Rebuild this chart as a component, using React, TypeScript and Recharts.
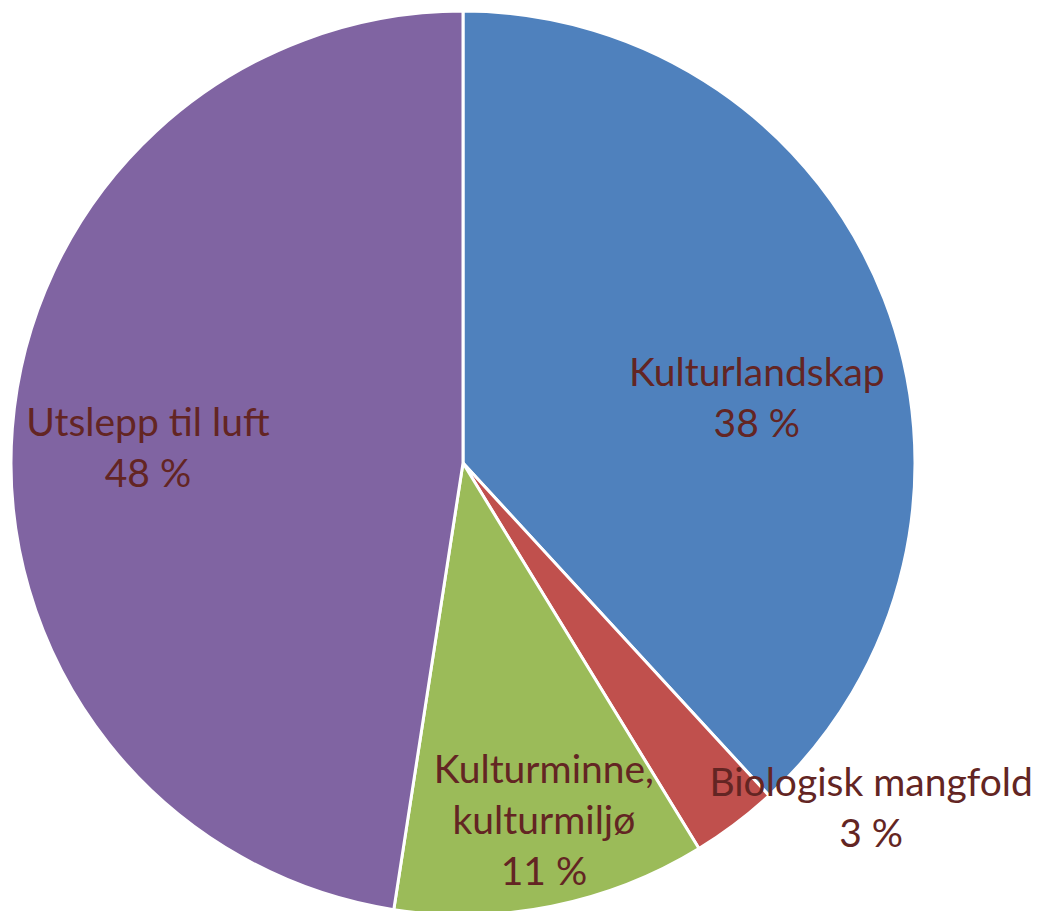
import React from "react";
import { PieChart, Pie, Cell } from "recharts";

// =====================================
// DATA
// =====================================

const categories = [
  "Kulturlandskap",
  "Biologisk mangfold",
  "Kulturminne, kulturmiljø",
  "Utslepp til luft",
];

const shares = [38.2, 3.1, 11.2, 47.6];

const colors = ["#4F81BD", "#C0504D", "#9BBB59", "#8064A2"];

// label block centres, as fractions of the outer radius from the pie centre
const labelSpots = [
  { fx: 0.65, fy: -0.144 },
  { fx: 0.903, fy: 0.763 },
  { fx: 0.179, fy: 0.79 },
  { fx: -0.697, fy: -0.035 },
];

const data = categories.map((name, i) => ({
  name,
  value: shares[i],
}));

const TEXT_COLOR = "#632523";
const FONT = "Lato, 'Open Sans', sans-serif";
const FONT_SIZE = 39;
const LINE_H = 51;

const renderLabel = (props: any) => {
  const { cx, cy, outerRadius, index, percent } = props;
  const spot = labelSpots[index];
  const x = cx + outerRadius * spot.fx;
  const y = cy + outerRadius * spot.fy;

  const name: string = categories[index];
  const lines = name.includes(", ")
    ? name.split(", ").map((s, i, arr) => (i < arr.length - 1 ? s + "," : s))
    : [name];
  lines.push(`${Math.round(percent * 100)} %`);

  const firstBase = y + 14 - ((lines.length - 1) * LINE_H) / 2;

  return (
    <text
      key={`lbl-${index}`}
      x={x}
      y={firstBase}
      textAnchor="middle"
      fill={TEXT_COLOR}
      fontFamily={FONT}
      fontSize={FONT_SIZE}
    >
      {lines.map((line, i) => (
        <tspan key={i} x={x} y={firstBase + i * LINE_H}>
          {line}
        </tspan>
      ))}
    </text>
  );
};

export default function App() {
  return (
    <div
      style={{
        position: "absolute",
        left: 0,
        top: 0,
        width: 1038,
        height: 911,
        background: "#ffffff",
      }}
    >
      <PieChart
        width={1038}
        height={911}
        margin={{ top: 0, right: 0, bottom: 0, left: 0 }}
      >
        <Pie
          data={data}
          dataKey="value"
          nameKey="name"
          cx={463}
          cy={463}
          outerRadius={452}
          startAngle={90}
          endAngle={-270}
          stroke="#ffffff"
          strokeWidth={3}
          label={renderLabel}
          labelLine={false}
          isAnimationActive={false}
        >
          {data.map((d, i) => (
            <Cell key={d.name} fill={colors[i]} />
          ))}
        </Pie>
      </PieChart>
    </div>
  );
}
